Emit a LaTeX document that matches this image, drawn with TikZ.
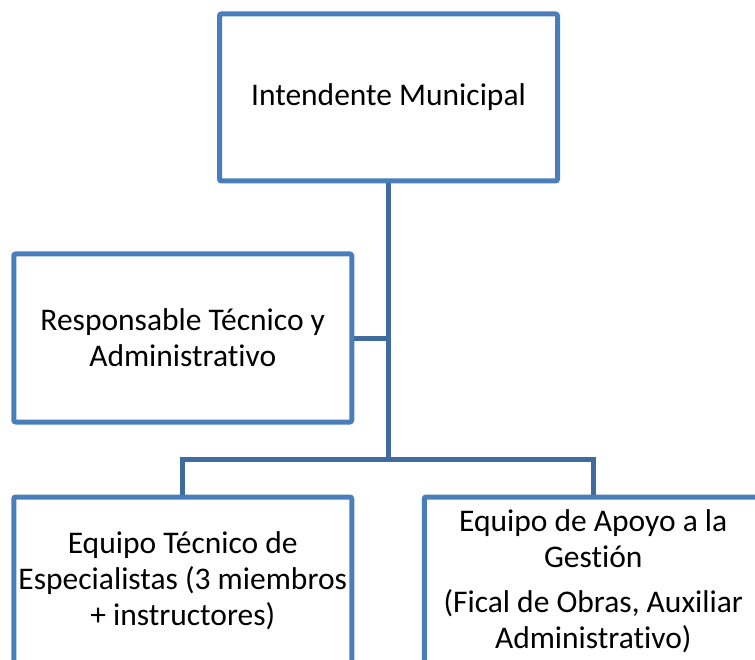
\documentclass[tikz,border=0pt]{standalone}
\usepackage{fontspec}
\setmainfont{Carlito}[Ligatures=NoCommon]
\definecolor{boxblue}{HTML}{4A7DBA}
\definecolor{connblue}{HTML}{3F6B9F}
\begin{document}
\begin{tikzpicture}[x=1pt,y=-1pt,
  orgbox/.style={draw=boxblue, line width=5pt, rounded corners=2pt, fill=white,
    minimum width=338pt, minimum height=167pt, inner sep=0pt, align=center,
    font=\fontsize{31.5}{36}\selectfont},
  conn/.style={draw=connblue, line width=5pt, line join=miter}]
\useasboundingbox (0,0) rectangle (755,660);
\clip (0,0) rectangle (755,660);
\coordinate (bus) at (388.5,459);
\node[orgbox] (top) at (388.5,97.5) {Intendente Municipal};
\node[orgbox, minimum height=168pt] (resp) at (182.75,338) {Responsable Técnico y\\Administrativo};
\node[orgbox, minimum height=168pt, anchor=north] (bl) at (182.75,494.5) {Equipo Técnico de\\Especialistas (3 miembros\\+ instructores)};
\node[orgbox, minimum height=168pt, anchor=north] (br) at (593.25,494.5) {Equipo de Apoyo a la\\Gestión\\[9pt](Fical de Obras, Auxiliar\\Administrativo)};
\draw[conn] (top.south) -- (bus);
\draw[conn] (resp.east) -- (resp.east -| bus);
\draw[conn] (bl.north) -- (bl.north |- bus) -- (br.north |- bus) -- (br.north);
\end{tikzpicture}
\end{document}
